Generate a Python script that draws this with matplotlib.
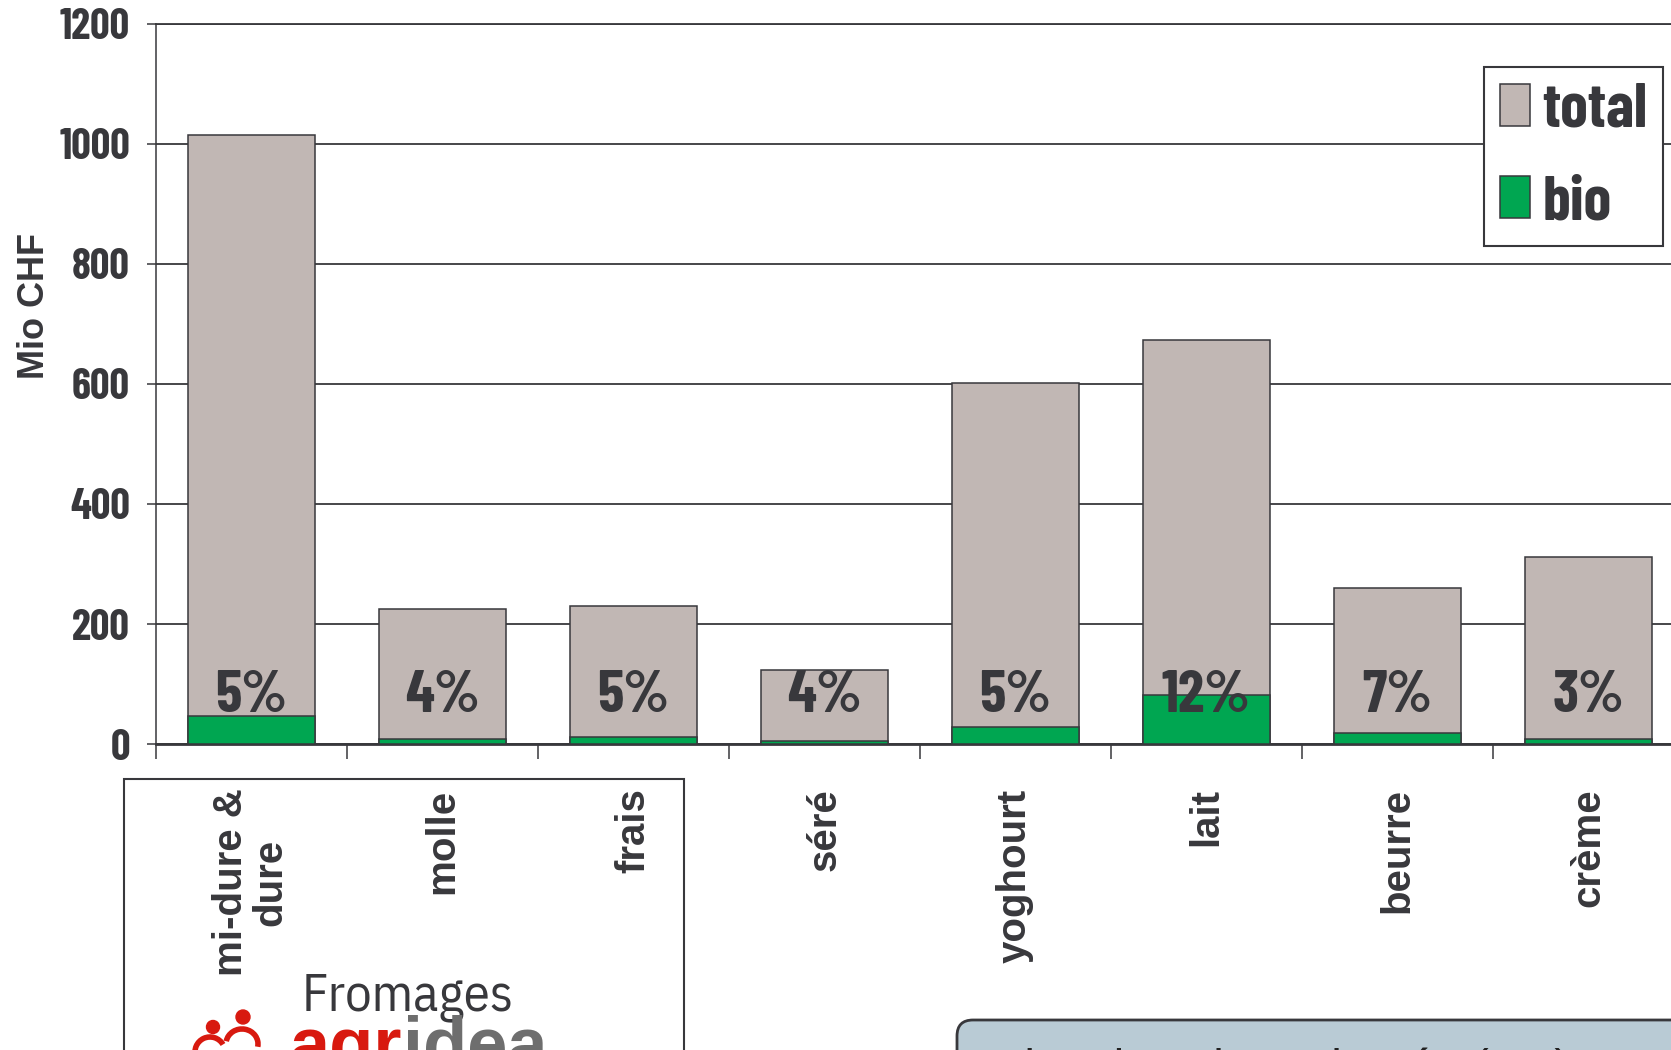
import matplotlib
matplotlib.use('Agg')
import matplotlib.pyplot as plt
from matplotlib.patches import Rectangle, FancyBboxPatch, Circle, Arc
import numpy as np

# Chiffre d'affaires par catégorie de produits laitiers (Mio CHF)
categories = ['mi-dure &\ndure', 'molle', 'frais', 'séré', 'yoghourt', 'lait', 'beurre', 'crème']
total = [1015, 225, 230, 123, 602, 673, 260, 312]
bio = [47, 9, 12, 5, 28, 82, 18, 9]
yticks = [0, 200, 400, 600, 800, 1000, 1200]

dark = '#38383c'
narrow = ['Barlow Condensed', 'IBM Plex Sans Condensed', 'Liberation Sans', 'DejaVu Sans']
plex = ['IBM Plex Sans Condensed', 'Liberation Sans', 'DejaVu Sans']
wide = ['Liberation Sans', 'DejaVu Sans']

plt.rcParams['font.family'] = narrow
plt.rcParams['text.color'] = dark

W, H = 1671, 1050
fig = plt.figure(figsize=(W / 100, H / 100), dpi=100)


def fx(px):
    return px / W


def fy(py):
    return 1 - py / H


def inch(px, py):
    # position en pixels depuis le coin haut-gauche -> pouces depuis le bas
    return px / 100, (H - py) / 100


ax = fig.add_axes([fx(155.6), fy(744), (1683.6 - 155.6) / W, (744 - 24) / H])

x = np.arange(len(categories))
ax.bar(x, total, width=0.665, color='#c1b7b4', edgecolor=dark, linewidth=1.1, zorder=3, label='total')
ax.bar(x, bio, width=0.665, color='#00a651', edgecolor=dark, linewidth=1.1, zorder=4, label='bio')

# part bio en pourcent
for xi, t, b in zip(x, total, bio):
    ax.text(xi, 53, f'{round(100 * b / t)}%', ha='center', va='baseline',
            fontsize=43, fontweight='bold', color=dark, zorder=5)

ax.set_xlim(-0.5, len(categories) - 0.5)
ax.set_ylim(0, 1200)
ax.set_yticks(yticks)
ax.set_yticklabels([str(v) for v in yticks], fontsize=31, fontweight='bold')
ax.tick_params(axis='y', length=6.5, width=1.1, pad=12, color=dark, labelcolor=dark)

ax.set_xticks(x)
ax.set_xticklabels(categories, rotation=90, va='top', ha='center', multialignment='center',
                   fontsize=29, fontweight='bold', family=wide, color=dark, linespacing=1.05)
ax.tick_params(axis='x', which='major', length=0, pad=32)
ax.set_xticks(np.arange(-0.5, len(categories), 1), minor=True)
ax.tick_params(axis='x', which='minor', length=11, width=1.1, color=dark)

ax.yaxis.grid(True, color=dark, linewidth=1.3)
ax.set_axisbelow(True)
ax.spines['right'].set_visible(False)
ax.spines['left'].set_linewidth(1.1)
ax.spines['top'].set_linewidth(1.3)
ax.spines['bottom'].set_linewidth(2)
for s in ax.spines.values():
    s.set_color(dark)

fig.text(fx(35), fy(306), 'Mio CHF', rotation=90, ha='center', va='center',
         fontsize=26, fontweight='bold', family=wide, color=dark)

handles, labels = ax.get_legend_handles_labels()
leg = fig.legend(handles, labels, loc='upper right', bbox_to_anchor=(fx(1663), fy(67)),
                 prop=dict(family=narrow, weight='bold', size=45), frameon=True, fancybox=False,
                 edgecolor=dark, facecolor='white', framealpha=1, handlelength=0.48,
                 handleheight=0.66, handletextpad=0.2, labelspacing=0.6, borderpad=0.25,
                 borderaxespad=0)
leg.get_frame().set_linewidth(1.5)

tr = fig.dpi_scale_trans

# cadre sous les catégories
x0, y0 = inch(124, 1080)
x1, y1 = inch(684, 779)
fig.patches.append(Rectangle((x0, y0), x1 - x0, y1 - y0, transform=tr, fill=False,
                             edgecolor=dark, linewidth=1.5))

fig.text(*inch(302, 1010), 'Fromages', transform=tr, fontsize=38, family=plex, color=dark,
         va='baseline')

# logo agridea
red = '#d8190f'
for cx, cy, r in [(213, 1027, 6.5), (243, 1017, 7)]:
    fig.patches.append(Circle(inch(cx, cy), r / 100, transform=tr, color=red))
fig.patches.append(Arc(inch(210, 1052), 0.30, 0.30, theta1=30, theta2=200, transform=tr,
                       color=red, linewidth=4))
fig.patches.append(Arc(inch(242, 1044), 0.32, 0.30, theta1=-10, theta2=170, transform=tr,
                       color=red, linewidth=4))
t_agr = fig.text(*inch(290, 1068), 'agr', transform=tr, fontsize=52, fontweight='bold',
                 family=wide, color=red, va='baseline')
fig.canvas.draw()
bb = t_agr.get_window_extent()
fig.text(bb.x1 / fig.dpi, (H - 1068) / 100, 'idea', transform=tr, fontsize=52,
         fontweight='bold', family=wide, color='#6e6e6e', va='baseline')

# encadré en bas à droite
bx0, by0 = inch(957, 1110)
bx1, by1 = inch(1750, 1020)
fig.patches.append(FancyBboxPatch((bx0, by0), bx1 - bx0, by1 - by0, transform=tr,
                                  boxstyle='round,pad=0,rounding_size=0.16',
                                  facecolor='#b9cbd5', edgecolor=dark, linewidth=2))
fig.text(*inch(993, 1082), 'Plus de valeur ajoutée (net)', transform=tr, fontsize=34,
         family=wide, color='#222222', va='baseline')

fig.savefig('out.png', dpi=100)
